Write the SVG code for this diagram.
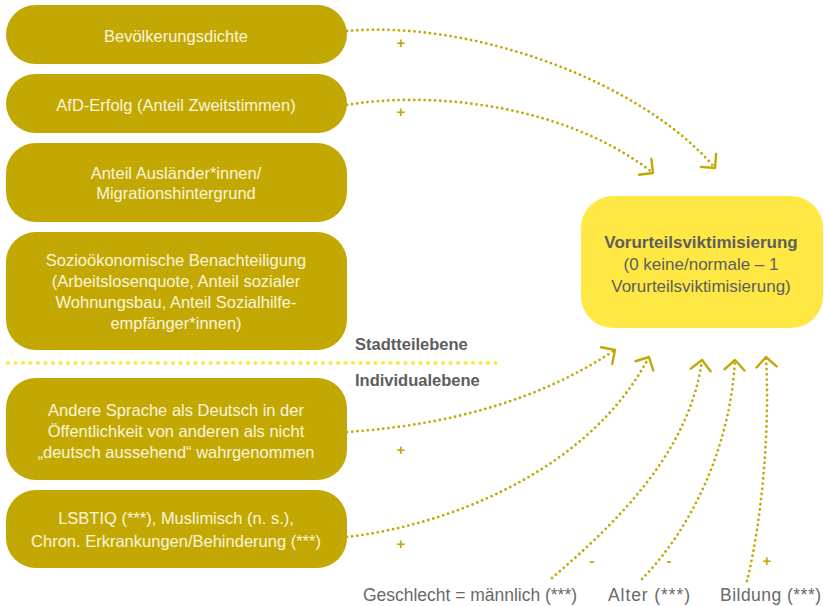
<svg xmlns="http://www.w3.org/2000/svg" width="824" height="606" viewBox="0 0 824 606">
<defs>
<style>
.node{fill:#C3A803}
.nt{font-family:"Liberation Sans",Arial,sans-serif;font-size:16.5px;fill:#FAF5DA;text-anchor:middle}
.tt{font-family:"Liberation Sans",Arial,sans-serif;font-size:17px;fill:#5E5E5E;text-anchor:middle}
.lvl{font-family:"Liberation Sans",Arial,sans-serif;font-size:16.5px;font-weight:bold;fill:#5E5E5E}
.lab{font-family:"Liberation Sans",Arial,sans-serif;font-size:17.5px;fill:#6A6A6A}
.sign{font-family:"Liberation Sans",Arial,sans-serif;font-size:15px;font-weight:bold;fill:#C3A803;text-anchor:middle}
.edge{fill:none;stroke:#C3A803;stroke-width:2.8;stroke-linecap:round;stroke-dasharray:0 5.2;marker-end:url(#arr)}
</style>
<marker id="arr" markerUnits="userSpaceOnUse" viewBox="-12 -12 14 24" refX="0" refY="0" markerWidth="14" markerHeight="24" orient="auto" overflow="visible">
<path d="M-10,-10 L0,0 L-10,10" fill="none" stroke="#C3A803" stroke-width="2.4" stroke-linecap="round" stroke-linejoin="round"/>
</marker>
</defs>
<rect width="824" height="606" fill="#FFFFFF"/>

<line x1="8" y1="363" x2="497" y2="363" stroke="#FFE640" stroke-width="4" stroke-linecap="round" stroke-dasharray="0 7.5"/>
<text class="lvl" x="355" y="350">Stadtteilebene</text>
<text class="lvl" x="355" y="386">Individualebene</text>

<g id="n1"><rect class="node" x="6" y="5" width="341" height="59" rx="29.5"/><text class="nt" x="176" y="42">Bevölkerungsdichte</text></g>
<g id="n2"><rect class="node" x="6" y="74" width="341" height="59" rx="29.5"/><text class="nt" x="176" y="111">AfD-Erfolg (Anteil Zweitstimmen)</text></g>
<g id="n3"><rect class="node" x="6" y="143" width="341" height="79" rx="30"/><text class="nt" x="176" y="179">Anteil Ausländer*innen/</text><text class="nt" x="176" y="199">Migrationshintergrund</text></g>
<g id="n4"><rect class="node" x="6" y="232" width="341" height="118" rx="30"/><text class="nt" x="176" y="266">Sozioökonomische Benachteiligung</text><text class="nt" x="176" y="287">(Arbeitslosenquote, Anteil sozialer</text><text class="nt" x="176" y="308">Wohnungsbau, Anteil Sozialhilfe-</text><text class="nt" x="176" y="329">empfänger*innen)</text></g>
<g id="n5"><rect class="node" x="6" y="378" width="341" height="102" rx="30"/><text class="nt" x="176" y="416">Andere Sprache als Deutsch in der</text><text class="nt" x="176" y="437">Öffentlichkeit von anderen als nicht</text><text class="nt" x="176" y="458">„deutsch aussehend“ wahrgenommen</text></g>
<g id="n6"><rect class="node" x="6" y="490" width="341" height="78" rx="30"/><text class="nt" x="176" y="524">LSBTIQ (***), Muslimisch (n. s.),</text><text class="nt" x="176" y="547">Chron. Erkrankungen/Behinderung (***)</text></g>
<g id="target"><rect x="581" y="196" width="242" height="132" rx="32" fill="#FFE843"/><text class="tt" x="701" y="248" font-weight="bold">Vorurteilsviktimisierung</text><text class="tt" x="701" y="270">(0 keine/normale – 1</text><text class="tt" x="701" y="292">Vorurteilsviktimisierung)</text></g>
<g id="v_geschlecht"><text class="lab" x="363" y="601" textLength="214" lengthAdjust="spacing">Geschlecht = männlich (***)</text></g>
<g id="v_alter"><text class="lab" x="608" y="601" textLength="82" lengthAdjust="spacing">Alter (***)</text></g>
<g id="v_bildung"><text class="lab" x="720" y="601" textLength="101" lengthAdjust="spacing">Bildung (***)</text></g>

<g id="connectors">
<path class="edge" d="M347,31 C470,20 640,80 715,168"/>
<path class="edge" d="M347,105 C420,92 560,100 653,173"/>
<path class="edge" d="M347,432 C450,425 540,400 615,350"/>
<path class="edge" d="M347,537 C450,525 590,470 649,357"/>
<path class="edge" d="M552,578 C620,520 690,450 702,360"/>
<path class="edge" d="M642,579 C690,530 730,450 735,360"/>
<path class="edge" d="M747,581 C762,520 770,430 766,357"/>
<text class="sign" x="401" y="48">+</text>
<text class="sign" x="401" y="117">+</text>
<text class="sign" x="401" y="455">+</text>
<text class="sign" x="401" y="549">+</text>
<text class="sign" x="592" y="566" font-size="17">-</text>
<text class="sign" x="669" y="566" font-size="17">-</text>
<text class="sign" x="767" y="566">+</text>
</g>
</svg>
